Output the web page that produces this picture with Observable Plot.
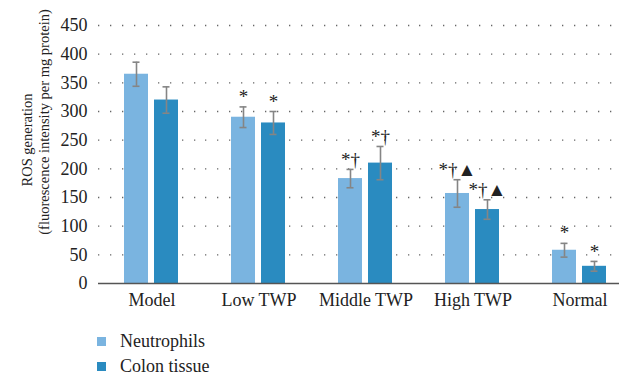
<!DOCTYPE html>
<html>
<head>
<meta charset="utf-8">
<script src="https://cdn.jsdelivr.net/npm/d3@7"></script>
<script src="https://cdn.jsdelivr.net/npm/@observablehq/plot@0.6"></script>
<style>
  html, body { margin: 0; padding: 0; background: #fff; }
  #wrap { position: relative; width: 619px; height: 374px; font-family: 'Liberation Serif'; }
  #chart svg, #chart svg text { font-family: 'Liberation Serif' !important; }
  #legend { position: absolute; left: 0; top: 315px; width: 619px; height: 59px; }
  .lg-row { position: absolute; left: 97px; height: 20px; display: flex; align-items: center; font-size: 18px; color: #222; font-family: 'Liberation Serif'; }
  .lg-sw { width: 9px; height: 9px; margin-right: 14px; }
</style>
</head>
<body>
<div id="wrap"><div id="chart"></div><div id="legend"></div></div>
<script>
const groups = ["Model", "Low TWP", "Middle TWP", "High TWP", "Normal"];
const series = ["Neutrophils", "Colon tissue"];
const seriesColors = ["#7ab4e0", "#2a8bc0"];
const neutrophils = [365, 290, 183, 157, 58];
const neutrophilsErr = [21, 18, 16, 24, 12];
const colon = [320, 280, 210, 129, 30];
const colonErr = [23, 20, 29, 17, 8.5];
const neutrophilsSig = ["", "*", "*†", "*†▲", "*"];
const colonSig = ["", "*", "*†", "*†▲", "*"];
const yTicks = [0, 50, 100, 150, 200, 250, 300, 350, 400, 450];
const yTitle = ["ROS generation", "(fluorescence intensity per mg protein)"];

const data = groups.flatMap((g, i) => [
  {group: g, series: series[0], value: neutrophils[i], err: neutrophilsErr[i], sig: neutrophilsSig[i]},
  {group: g, series: series[1], value: colon[i], err: colonErr[i], sig: colonSig[i]}
]);
const lo = d => d.value - d.err;
const hi = d => d.value + d.err;

const chart = Plot.plot({
  width: 619,
  height: 315,
  marginLeft: 97,
  marginRight: 0,
  marginTop: 25,
  marginBottom: 32,
  style: {fontFamily: "'Liberation Serif'", fontSize: "18px", background: "white", color: "#222"},
  fx: {domain: groups, range: [96.5, 633.5], padding: 0, label: null, tickSize: 0, tickPadding: 10},
  x: {domain: series, paddingInner: 0.194, paddingOuter: 0.83, axis: null},
  y: {domain: [0, 450], ticks: yTicks, tickSize: 0, tickPadding: 11, label: null},
  color: {domain: series, range: seriesColors},
  marks: [
    Plot.ruleY(yTicks.filter(t => t > 0), {stroke: "#666", strokeWidth: 1.3, strokeDasharray: "1.3,10.7"}),
    Plot.barY(data, {fx: "group", x: "series", y: "value", fill: "series"}),
    Plot.ruleX(data, {fx: "group", x: "series", y1: lo, y2: hi, stroke: "#858585", strokeWidth: 1.6}),
    Plot.tickY(data, {fx: "group", x: "series", y: lo, stroke: "#858585", strokeWidth: 1.6, insetLeft: 8.5, insetRight: 8.5}),
    Plot.tickY(data, {fx: "group", x: "series", y: hi, stroke: "#858585", strokeWidth: 1.6, insetLeft: 8.5, insetRight: 8.5}),
    Plot.ruleY([0], {stroke: "#555", strokeWidth: 1.6}),
    Plot.text(data, {fx: "group", x: "series", y: hi, text: "sig", dy: -10, fontSize: 19, fill: "#222"}),
    Plot.text([yTitle[0]], {fx: [groups[0]], frameAnchor: "left", textAnchor: "middle", text: d => d, rotate: -90, dx: -71.5, dy: -14.5, fontSize: 14.5, fill: "#222"}),
    Plot.text([yTitle[1]], {fx: [groups[0]], frameAnchor: "left", textAnchor: "middle", text: d => d, rotate: -90, dx: -54.5, dy: -32.5, fontSize: 14.5, fill: "#222"})
  ]
});
document.getElementById("chart").appendChild(chart);

const legend = document.getElementById("legend");
series.forEach((s, i) => {
  const row = document.createElement("div");
  row.className = "lg-row";
  row.style.top = (16 + i * 25) + "px";
  const sw = document.createElement("div");
  sw.className = "lg-sw";
  sw.style.background = seriesColors[i];
  const tx = document.createElement("span");
  tx.textContent = s;
  row.appendChild(sw);
  row.appendChild(tx);
  legend.appendChild(row);
});
</script>
</body>
</html>
